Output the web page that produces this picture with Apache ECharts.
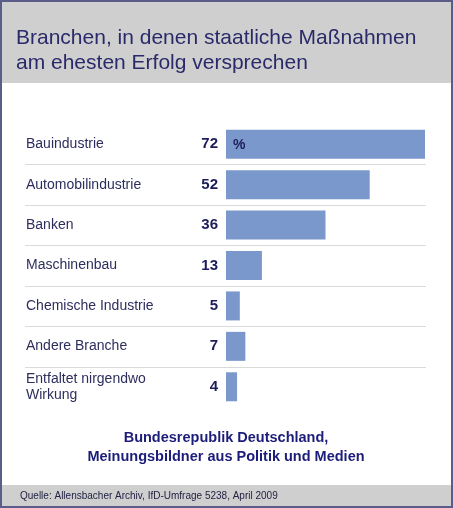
<!DOCTYPE html>
<html><head><meta charset="utf-8">
<script src="https://cdn.jsdelivr.net/npm/echarts@6/dist/echarts.min.js"></script>
<style>
html,body{margin:0;padding:0;background:#fff;}
#c{width:453px;height:508px;}
</style></head><body><div id="c"></div>
<script>
const categories = ["Bauindustrie","Automobilindustrie","Banken","Maschinenbau","Chemische Industrie","Andere Branche","Entfaltet nirgendwo\nWirkung"];
const values = [72,52,36,13,5,7,4];
const titleLines = "Branchen, in denen staatliche Maßnahmen\nam ehesten Erfolg versprechen";
const subtitle = "Bundesrepublik Deutschland,\nMeinungsbildner aus Politik und Medien";
const source = "Quelle: Allensbacher Archiv, IfD-Umfrage 5238, April 2009";

const chart = echarts.init(document.getElementById('c'));
const font = "Liberation Sans, Arial, sans-serif";
chart.setOption({
  animation:false,
  grid:{left:226,right:28,top:124,height:283},
  xAxis:{type:'value',min:0,max:72,show:false},
  yAxis:{type:'category',data:categories,inverse:true,
    axisLine:{show:false},axisTick:{show:false},splitLine:{show:false},
    axisLabel:{margin:200,align:'left',color:'#2d2d5e',fontSize:14,fontFamily:font,lineHeight:16}},
  series:[{type:'bar',data:values,barWidth:29,itemStyle:{color:'#7b98cc'},
    label:{show:true,position:'left',distance:8,fontWeight:'bold',fontSize:15,color:'#1c1c5a',fontFamily:font}}],
  graphic:[]
});
const g = [
  {type:'rect',shape:{x:0,y:0,width:453,height:83},style:{fill:'#cfcfcf'},z:-1},
  {type:'rect',shape:{x:0,y:485,width:453,height:23},style:{fill:'#cfcfcf'},z:-1},
  {type:'rect',shape:{x:1,y:1,width:451,height:506},style:{fill:'none',stroke:'#5c5c8a',lineWidth:2},z:10},
  {type:'text',left:16,top:26,style:{text:titleLines,fill:'#2a2a6a',fontSize:21,lineHeight:25,fontFamily:font}},
  {type:'text',z:100,style:{text:subtitle,x:226,y:447,align:'center',verticalAlign:'middle',fill:'#1c1c7a',fontSize:14.5,fontWeight:'bold',lineHeight:19,fontFamily:font}},
  {type:'text',z:100,style:{text:source,x:20,y:496,verticalAlign:'middle',fill:'#222244',fontSize:10,fontFamily:font}},
  {type:'text',z:100,style:{text:'%',x:233,y:145,verticalAlign:'middle',fill:'#1c1c5a',fontSize:14,fontWeight:'bold',fontFamily:font}}
];
for(let i=0;i<categories.length-1;i++){
  const a=chart.convertToPixel({yAxisIndex:0},i), b=chart.convertToPixel({yAxisIndex:0},i+1);
  const y=Math.round((a+b)/2)+0.5;
  g.push({type:'line',shape:{x1:25,y1:y,x2:426,y2:y},style:{stroke:'#dadada',lineWidth:1}});
}
chart.setOption({graphic:g});
</script></body></html>
